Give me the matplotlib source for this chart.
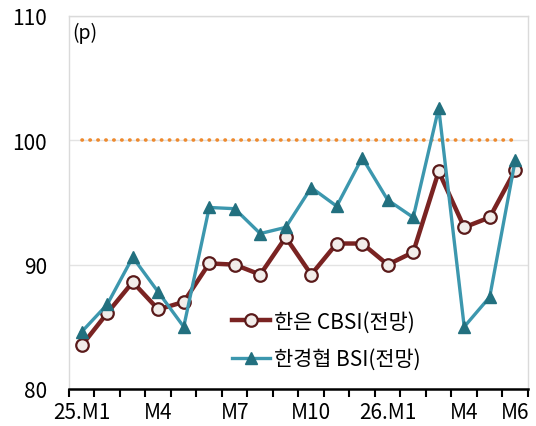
import numpy as np
import matplotlib
matplotlib.use('Agg')
import matplotlib.pyplot as plt

plt.rcParams['font.family'] = ['Noto Sans CJK KR', 'DejaVu Sans']

# 월별 지표 (25.M1 ~ 26.M6)
months = ['25.M1', 'M2', 'M3', 'M4', 'M5', 'M6', 'M7', 'M8', 'M9', 'M10', 'M11', 'M12',
          '26.M1', 'M2', 'M3', 'M4', 'M5', 'M6']
cbsi = [83.5, 86.1, 88.6, 86.4, 87.0, 90.1, 90.0, 89.2, 92.2, 89.2, 91.7, 91.7,
        90.0, 91.0, 97.5, 93.0, 93.8, 97.6]
bsi = [84.6, 86.8, 90.6, 87.8, 85.0, 94.6, 94.5, 92.5, 93.0, 96.2, 94.7, 98.6,
       95.2, 93.8, 102.6, 85.0, 87.4, 98.4]
shown_labels = ['25.M1', 'M4', 'M7', 'M10', '26.M1', 'M4', 'M6']
shown_pos = [0, 3, 6, 9, 12, 15, 17]

x = np.arange(len(months))

fig = plt.figure(figsize=(5.36, 4.27), dpi=100)
ax = fig.add_axes([0.1287, 0.0867, 0.8563, 0.8735])

# 기준선 100
ax.plot([x[0], x[-1]], [100, 100], color='#EE8A2E', lw=2.6, ls=(0, (0.1, 2.1)),
        dash_capstyle='round', zorder=2)

ax.plot(x, cbsi, color='#7A2322', lw=3.2, marker='o', ms=9,
        markerfacecolor='#F2EDEA', markeredgecolor='#5A1A1A', markeredgewidth=1.6,
        label='한은 CBSI(전망)', zorder=3)
ax.plot(x, bsi, color='#3C97AE', lw=2.4, marker='^', ms=9,
        markerfacecolor='#22707F', markeredgecolor='#22707F',
        label='한경협 BSI(전망)', zorder=4)

ax.set_xlim(-0.5, 17.5)
ax.set_ylim(80, 110)
ax.set_yticks([80, 90, 100, 110])
ax.grid(axis='y', color='#E3E3E3', lw=1)
ax.set_axisbelow(True)

ax.set_xticks(shown_pos)
ax.set_xticklabels(shown_labels)
ax.set_xticks(np.arange(-0.5, 18, 1), minor=True)
ax.tick_params(axis='x', which='major', length=0, pad=9, labelsize=15)
ax.tick_params(axis='x', which='minor', length=6, width=1.5, color='black', direction='out')
ax.tick_params(axis='y', length=0, pad=16, labelsize=15)

for side in ['left', 'right', 'top']:
    ax.spines[side].set_color('#DADADA')
    ax.spines[side].set_linewidth(1)
ax.spines['bottom'].set_color('black')
ax.spines['bottom'].set_linewidth(1.8)

ax.text(0.008, 0.985, '(p)', transform=ax.transAxes, fontsize=14, va='top', ha='left')

ax.legend(loc='lower left', bbox_to_anchor=(0.315, 0.0), frameon=False, fontsize=15,
          handlelength=1.8, handletextpad=0.2, labelspacing=0.75)

fig.savefig('out.png', dpi=100)
